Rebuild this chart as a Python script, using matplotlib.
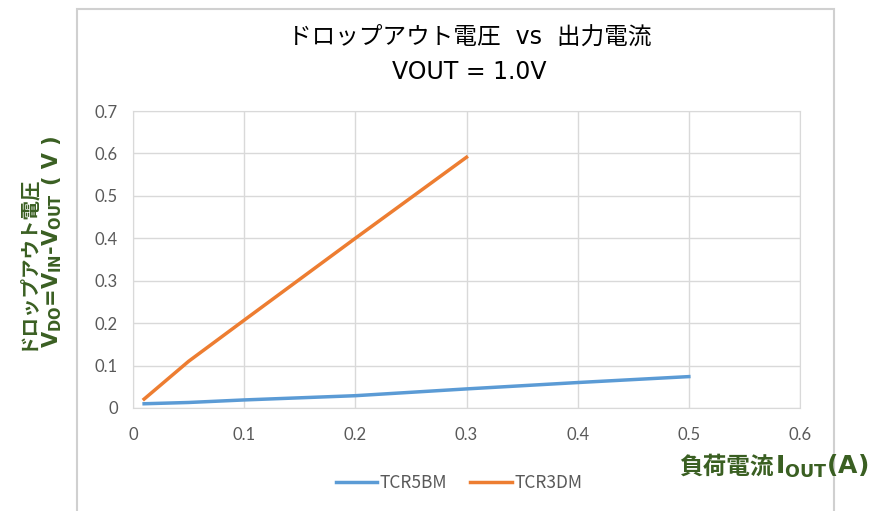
import numpy as np
import matplotlib.pyplot as plt
from matplotlib.patches import Rectangle

plt.rcParams['font.family'] = ['Noto Sans CJK JP', 'DejaVu Sans']
plt.rcParams['mathtext.fontset'] = 'custom'
plt.rcParams['mathtext.rm'] = 'DejaVu Sans:bold'
plt.rcParams['mathtext.bf'] = 'DejaVu Sans:bold'

# data
iout_5bm = [0.01, 0.05, 0.1, 0.2, 0.3, 0.4, 0.5]
vdo_5bm = [0.010, 0.013, 0.019, 0.029, 0.045, 0.060, 0.074]
iout_3dm = [0.01, 0.05, 0.1, 0.2, 0.3]
vdo_3dm = [0.021, 0.110, 0.207, 0.400, 0.591]

xticks = [0, 0.1, 0.2, 0.3, 0.4, 0.5, 0.6]
yticks = [0, 0.1, 0.2, 0.3, 0.4, 0.5, 0.6, 0.7]

green = '#3a5f22'
grey = '#595959'
latin_first = ['DejaVu Sans', 'Noto Sans CJK JP']
W, H = 869, 511

fig = plt.figure(figsize=(8.69, 5.11), dpi=100)
fig.patches.append(Rectangle((77 / W, -0.1), (834 - 77) / W, 1.1 - 9 / H,
                             transform=fig.transFigure, fill=False,
                             edgecolor='#d0d0d0', linewidth=1.5))

ax = fig.add_axes([133 / W, 1 - 408 / H, (800 - 133) / W, (408 - 111) / H])
ax.plot(iout_5bm, vdo_5bm, color='#5b9bd5', lw=2.5, label='TCR5BM')
ax.plot(iout_3dm, vdo_3dm, color='#ed7d31', lw=2.5, label='TCR3DM')

ax.set_xlim(0, 0.6)
ax.set_ylim(0, 0.7)
ax.set_xticks(xticks)
ax.set_yticks(yticks)
ax.set_xticklabels(['0' if t == 0 else f'{t:.1f}' for t in xticks])
ax.set_yticklabels(['0' if t == 0 else f'{t:.1f}' for t in yticks])
ax.tick_params(length=0, labelsize=12, labelcolor=grey, pad=14)
ax.tick_params(axis='y', pad=11)
for lab in ax.get_xticklabels() + ax.get_yticklabels():
    lab.set_family(['Lato', 'DejaVu Sans'])
ax.grid(color='#d9d9d9', lw=1)
ax.set_axisbelow(True)
for s in ax.spines.values():
    s.set_color('#d9d9d9')

# title
fig.text(0.54, 1 - 37 / H, 'ドロップアウト電圧  vs  出力電流', ha='center', va='center',
         fontsize=17, family=latin_first)
fig.text(0.54, 1 - 72 / H, 'VOUT = 1.0V', ha='center', va='center', fontsize=17,
         family=latin_first)

# y label, two columns
fig.text(26 / W, 1 - 262 / H, 'ドロップアウト電圧', rotation=90, ha='center', va='center',
         fontsize=14, fontweight='bold', color=green)
ylat = fig.text(52 / W, 1 - 348 / H,
                r'$\mathbf{V_{DO}}$=$\mathbf{V_{IN}}$-$\mathbf{V_{OUT}}$',
                rotation=90, ha='center', va='bottom', fontsize=15, color=green,
                fontweight='bold', family='DejaVu Sans')

# x label
xlat = fig.text(868 / W, 1 - 474 / H, r'$\mathbf{I_{OUT}}$(A)', ha='right',
                va='baseline', fontsize=18, color=green, fontweight='bold',
                family='DejaVu Sans')

leg = fig.legend(loc='center', bbox_to_anchor=(459 / W, 1 - 483 / H), ncol=2, frameon=False,
                 fontsize=12.5, handlelength=2.4, columnspacing=1.3, handletextpad=0.15)
for t in leg.get_texts():
    t.set_color(grey)

# attach the remaining parts next to the mathtext parts
fig.canvas.draw()
bb = ylat.get_window_extent()
fig.text(52 / W, (bb.y1 + 8) / H, '( V )', rotation=90, ha='center', va='bottom',
         fontsize=15, fontweight='bold', color=green, family='DejaVu Sans')
bb = xlat.get_window_extent()
fig.text((bb.x0 - 1) / W, 1 - 474 / H, '負荷電流', ha='right', va='baseline',
         fontsize=17, fontweight='bold', color=green)

fig.savefig('out.png', dpi=100)
